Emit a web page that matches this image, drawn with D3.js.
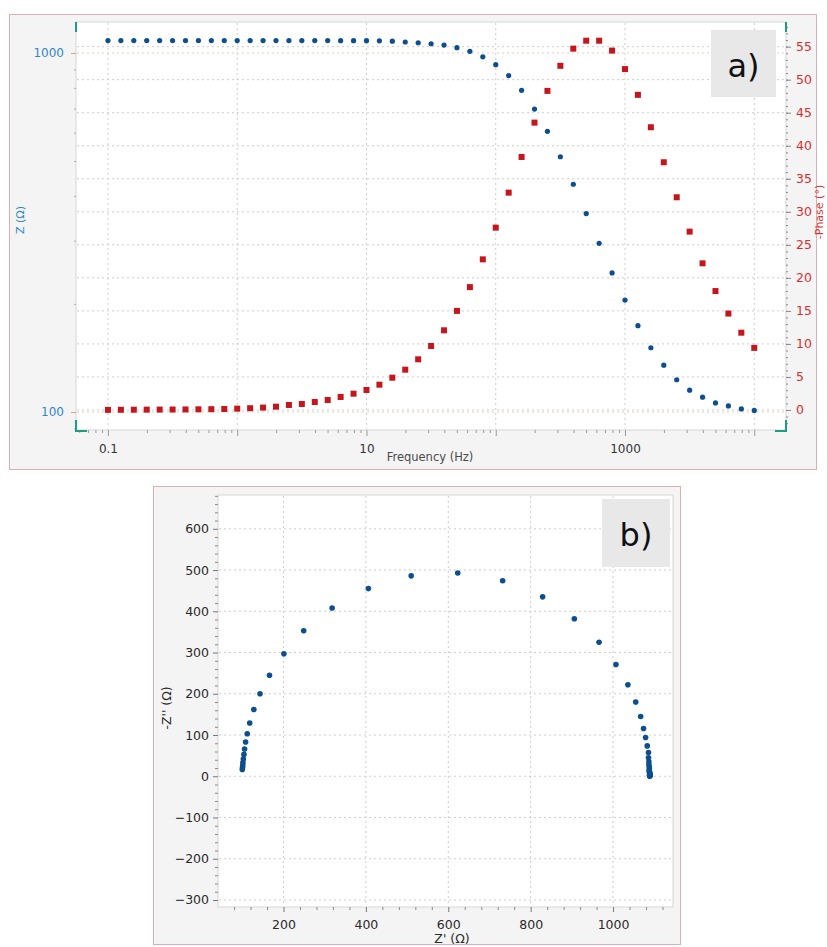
<!DOCTYPE html>
<html>
<head>
<meta charset="utf-8">
<script src="https://cdn.jsdelivr.net/npm/d3@7"></script>
<style>
  html, body { margin: 0; padding: 0; background: #ffffff; }
  svg { display: block; }
  text { font-family: "DejaVu Sans", "Liberation Sans", sans-serif; }
</style>
</head>
<body>
<svg id="chart" width="827" height="947"></svg>
<script>
// Impedance spectrum, 10 points per decade from 0.1 Hz to 10 kHz
const frequency = [
  0.1, 0.1259, 0.1585, 0.1995, 0.2512, 0.3162, 0.3981, 0.5012, 0.631, 0.7943,
  1, 1.259, 1.585, 1.995, 2.512, 3.162, 3.981, 5.012, 6.31, 7.943,
  10, 12.59, 15.85, 19.95, 25.12, 31.62, 39.81, 50.12, 63.1, 79.43,
  100, 125.9, 158.5, 199.5, 251.2, 316.2, 398.1, 501.2, 631, 794.3,
  1000, 1259, 1585, 1995, 2512, 3162, 3981, 5012, 6310, 7943,
  10000
];
// |Z| in ohm
const zModulus = [
  1083, 1083, 1083, 1083, 1083, 1083, 1083, 1083, 1083, 1083,
  1083, 1083, 1083, 1083, 1083, 1083, 1083, 1083, 1082, 1082,
  1082, 1081, 1079, 1073, 1068, 1061, 1052, 1035, 1011, 976,
  928, 865, 787, 698, 605, 514, 431, 357, 295, 244,
  205, 174, 151, 135, 123, 115, 110, 106, 104, 102,
  101
];
// -Phase in degrees
const phase = [
  0.02, 0.03, 0.04, 0.05, 0.06, 0.07, 0.08, 0.1, 0.12, 0.15,
  0.2, 0.27, 0.36, 0.5, 0.76, 0.91, 1.21, 1.51, 1.97, 2.47,
  3.03, 3.83, 4.89, 6.1, 7.67, 9.69, 12.06, 15.0, 18.6, 22.8,
  27.6, 32.9, 38.3, 43.5, 48.3, 52.1, 54.7, 55.9, 55.9, 54.4,
  51.6, 47.7, 42.8, 37.5, 32.2, 27.0, 22.2, 18.0, 14.6, 11.7,
  9.4
];
// Nyquist plane, same frequency order
const zReal = [
  1089, 1089, 1089, 1089, 1089, 1089, 1089, 1089, 1089, 1089,
  1089, 1089, 1089, 1088, 1088, 1088, 1088, 1087, 1087, 1086,
  1086, 1083, 1079, 1074, 1067, 1055, 1036, 1007, 966, 906,
  829, 732, 623, 510, 406, 318, 249, 201, 166, 143,
  128, 118, 112, 108, 105.5, 104, 102.5, 101.5, 101, 100.5,
  100
];
const zImag = [
  0.6, 0.8, 1.0, 1.2, 1.5, 1.9, 2.3, 2.9, 3.6, 4.5,
  5.7, 7.1, 8.9, 11.2, 14.1, 17.7, 22.2, 28.0, 35.1, 44.6,
  57.8, 73.6, 94, 116, 145, 180, 222, 271, 325, 382,
  435, 474, 493, 486, 455, 408, 353, 297, 245, 200,
  162, 129, 103, 83, 66, 53, 42, 33, 26, 21,
  16.5
];

const freqTickLabels = ["0.1", "10", "1000"];
const freqDecades = [0.1, 1, 10, 100, 1000, 10000];
const zTickLabels = ["100", "1000"];
const phaseTicks = [0, 5, 10, 15, 20, 25, 30, 35, 40, 45, 50, 55];
const nyqXTicks = [200, 400, 600, 800, 1000];
const nyqYTicks = [-300, -200, -100, 0, 100, 200, 300, 400, 500, 600];

const COL = {
  zDot: "#0d4f8c",
  phaseSq: "#c4161c",
  zText: "#2f86c9",
  phaseText: "#d73030",
  corner: "#1f9c80",
  grid: "#cdcdcd",
  frame: "#e0aeae",
  panel: "#f4f4f4",
  plotEdge: "#d6d6d6",
  tick: "#777777",
  text: "#2a2a2a"
};

const svg = d3.select("#chart");

function dotted(g, x1, y1, x2, y2, color) {
  g.append("line")
    .attr("x1", x1).attr("y1", y1).attr("x2", x2).attr("y2", y2)
    .attr("stroke", color || COL.grid).attr("stroke-width", 1)
    .attr("stroke-dasharray", "2,3");
}

function styleAxis(g, color) {
  g.select(".domain").remove();
  g.selectAll(".tick line").attr("stroke", color || COL.tick);
  g.selectAll("text").attr("font-family", "DejaVu Sans, sans-serif");
}

/* ---------------- Panel a: Bode plot ---------------- */
const A = { left: 76, right: 786, top: 22, bottom: 430 };

svg.append("rect").attr("x", 9.5).attr("y", 14.5).attr("width", 807).attr("height", 455)
  .attr("fill", COL.panel).attr("stroke", COL.frame);
svg.append("rect").attr("x", A.left).attr("y", A.top)
  .attr("width", A.right - A.left).attr("height", A.bottom - A.top)
  .attr("fill", "#ffffff").attr("stroke", COL.plotEdge);

const xF = d3.scaleLog().domain([0.0566, 17600]).range([A.left, A.right]);
const yZ = d3.scaleLog().domain([89.1, 1220]).range([A.bottom, A.top]);
const yP = d3.scaleLinear().domain([-3.03, 58.73]).range([A.bottom, A.top]);

const gridA = svg.append("g");
freqDecades.forEach(f => dotted(gridA, xF(f), A.top + 1, xF(f), A.bottom - 1));
phaseTicks.forEach(p => dotted(gridA, A.left + 1, yP(p), A.right - 1, yP(p)));
zTickLabels.forEach(z => dotted(gridA, A.left + 1, yZ(+z), A.right - 1, yZ(+z), "#e2cfc0"));

// frequency axis: minor and decade ticks
const gxMinor = svg.append("g").attr("transform", `translate(0,${A.bottom})`)
  .call(d3.axisBottom(xF).tickValues(xF.ticks().filter(f => !freqDecades.includes(f))).tickSize(3).tickFormat(""));
styleAxis(gxMinor, "#999");
const gx = svg.append("g").attr("transform", `translate(0,${A.bottom})`)
  .call(d3.axisBottom(xF).tickValues(freqDecades).tickSize(6).tickPadding(8)
    .tickFormat(f => freqTickLabels.includes(String(f)) ? String(f) : ""));
styleAxis(gx, "#999");
gx.selectAll("text").attr("font-size", 12).attr("fill", "#333");

svg.append("text").attr("x", 430).attr("y", 461).attr("text-anchor", "middle")
  .attr("font-size", 11.5).attr("fill", "#4a4a4a").text("Frequency (Hz)");

// |Z| axis
const gzMinor = svg.append("g").attr("transform", `translate(${A.left},0)`)
  .call(d3.axisLeft(yZ).tickValues(yZ.ticks().filter(v => ![100, 1000].includes(v))).tickSize(2).tickFormat(""));
styleAxis(gzMinor, "#aaa");
const gz = svg.append("g").attr("transform", `translate(${A.left},0)`)
  .call(d3.axisLeft(yZ).tickValues(zTickLabels.map(Number)).tickSize(5).tickPadding(7)
    .tickFormat((d, i) => zTickLabels[i]));
styleAxis(gz, "#d9a08a");
gz.selectAll("text").attr("font-size", 12).attr("fill", COL.zText);

svg.append("text").attr("transform", "translate(24,220) rotate(-90)")
  .attr("text-anchor", "middle").attr("font-size", 11).attr("fill", COL.zText).text("Z (Ω)");

// phase axis
const gpMinor = svg.append("g").attr("transform", `translate(${A.right},0)`)
  .call(d3.axisRight(yP).tickValues(d3.range(-2, 59)).tickSize(2).tickFormat(""));
styleAxis(gpMinor, "#888");
const gp = svg.append("g").attr("transform", `translate(${A.right},0)`)
  .call(d3.axisRight(yP).tickValues(phaseTicks).tickSize(5).tickPadding(5));
styleAxis(gp, "#888");
gp.selectAll("text").attr("font-size", 12.5).attr("fill", COL.phaseText);

svg.append("text").attr("transform", "translate(823,212) rotate(-90)")
  .attr("text-anchor", "middle").attr("font-size", 11).attr("fill", COL.phaseText).text("-Phase (°)");

// corner markers on the plot frame
const corners = svg.append("g").attr("stroke", COL.corner).attr("stroke-width", 2).attr("fill", "none");
corners.append("path").attr("d", `M${A.left},${A.top}V${A.top + 10}`);
corners.append("path").attr("d", `M${A.right},${A.top}V${A.top + 10}`);
corners.append("path").attr("d", `M${A.left},${A.bottom - 10}V${A.bottom + 1}H${A.left + 11}`);
corners.append("path").attr("d", `M${A.right},${A.bottom - 10}V${A.bottom + 1}H${A.right - 11}`);

// data marks
svg.append("g").selectAll("rect").data(frequency).join("rect")
  .attr("x", (f) => xF(f) - 3).attr("y", (f, i) => yP(phase[i]) - 3)
  .attr("width", 6).attr("height", 6).attr("fill", COL.phaseSq);
svg.append("g").selectAll("circle").data(frequency).join("circle")
  .attr("cx", (f) => xF(f)).attr("cy", (f, i) => yZ(zModulus[i]))
  .attr("r", 2.6).attr("fill", COL.zDot);

// panel tag
svg.append("rect").attr("x", 711).attr("y", 30).attr("width", 65).attr("height", 67).attr("fill", "#e8e8e8");
svg.append("text").attr("x", 743.5).attr("y", 77).attr("text-anchor", "middle")
  .attr("font-family", "Lato, 'Open Sans', sans-serif").attr("font-size", 32).attr("fill", "#111").text("a)");

/* ---------------- Panel b: Nyquist plot ---------------- */
const B = { left: 218, right: 673, top: 495, bottom: 907 };

svg.append("rect").attr("x", 153.5).attr("y", 486.5).attr("width", 527).attr("height", 458)
  .attr("fill", COL.panel).attr("stroke", COL.frame);
svg.append("rect").attr("x", B.left).attr("y", B.top)
  .attr("width", B.right - B.left).attr("height", B.bottom - B.top)
  .attr("fill", "#ffffff").attr("stroke", COL.plotEdge);

const xN = d3.scaleLinear().domain([41, 1145.5]).range([B.left, B.right]);
const yN = d3.scaleLinear().domain([-317, 682]).range([B.bottom, B.top]);

const gridB = svg.append("g");
nyqXTicks.forEach(v => dotted(gridB, xN(v), B.top + 1, xN(v), B.bottom - 1));
nyqYTicks.forEach(v => dotted(gridB, B.left + 1, yN(v), B.right - 1, yN(v)));

const gbxMinor = svg.append("g").attr("transform", `translate(0,${B.bottom})`)
  .call(d3.axisBottom(xN).tickValues(d3.range(80, 1141, 40).filter(v => v % 200 !== 0)).tickSize(3).tickFormat(""));
styleAxis(gbxMinor, "#888");
const gbx = svg.append("g").attr("transform", `translate(0,${B.bottom})`)
  .call(d3.axisBottom(xN).tickValues(nyqXTicks).tickSize(5).tickPadding(8).tickFormat(d3.format("d")));
styleAxis(gbx, "#777");
gbx.selectAll("text").attr("font-size", 12.5).attr("fill", COL.text);

const gbyMinor = svg.append("g").attr("transform", `translate(${B.left},0)`)
  .call(d3.axisLeft(yN).tickValues(d3.range(-300, 681, 20).filter(v => v % 100 !== 0)).tickSize(3).tickFormat(""));
styleAxis(gbyMinor, "#888");
const gby = svg.append("g").attr("transform", `translate(${B.left},0)`)
  .call(d3.axisLeft(yN).tickValues(nyqYTicks).tickSize(5).tickPadding(4).tickFormat(d3.format("d")));
styleAxis(gby, "#777");
gby.selectAll("text").attr("font-size", 12.5).attr("fill", COL.text);

svg.append("text").attr("x", 452).attr("y", 943).attr("text-anchor", "middle")
  .attr("font-size", 12.5).attr("fill", COL.text).text("Z' (Ω)");
svg.append("text").attr("transform", "translate(171,708) rotate(-90)")
  .attr("text-anchor", "middle").attr("font-size", 12.5).attr("fill", COL.text).text("-Z'' (Ω)");

svg.append("g").selectAll("circle").data(zReal).join("circle")
  .attr("cx", d => xN(d)).attr("cy", (d, i) => yN(zImag[i]))
  .attr("r", 2.8).attr("fill", COL.zDot);

svg.append("rect").attr("x", 602).attr("y", 499).attr("width", 68).attr("height", 68).attr("fill", "#e8e8e8");
svg.append("text").attr("x", 636).attr("y", 546).attr("text-anchor", "middle")
  .attr("font-family", "Lato, 'Open Sans', sans-serif").attr("font-size", 32).attr("fill", "#111").text("b)");
</script>
</body>
</html>
